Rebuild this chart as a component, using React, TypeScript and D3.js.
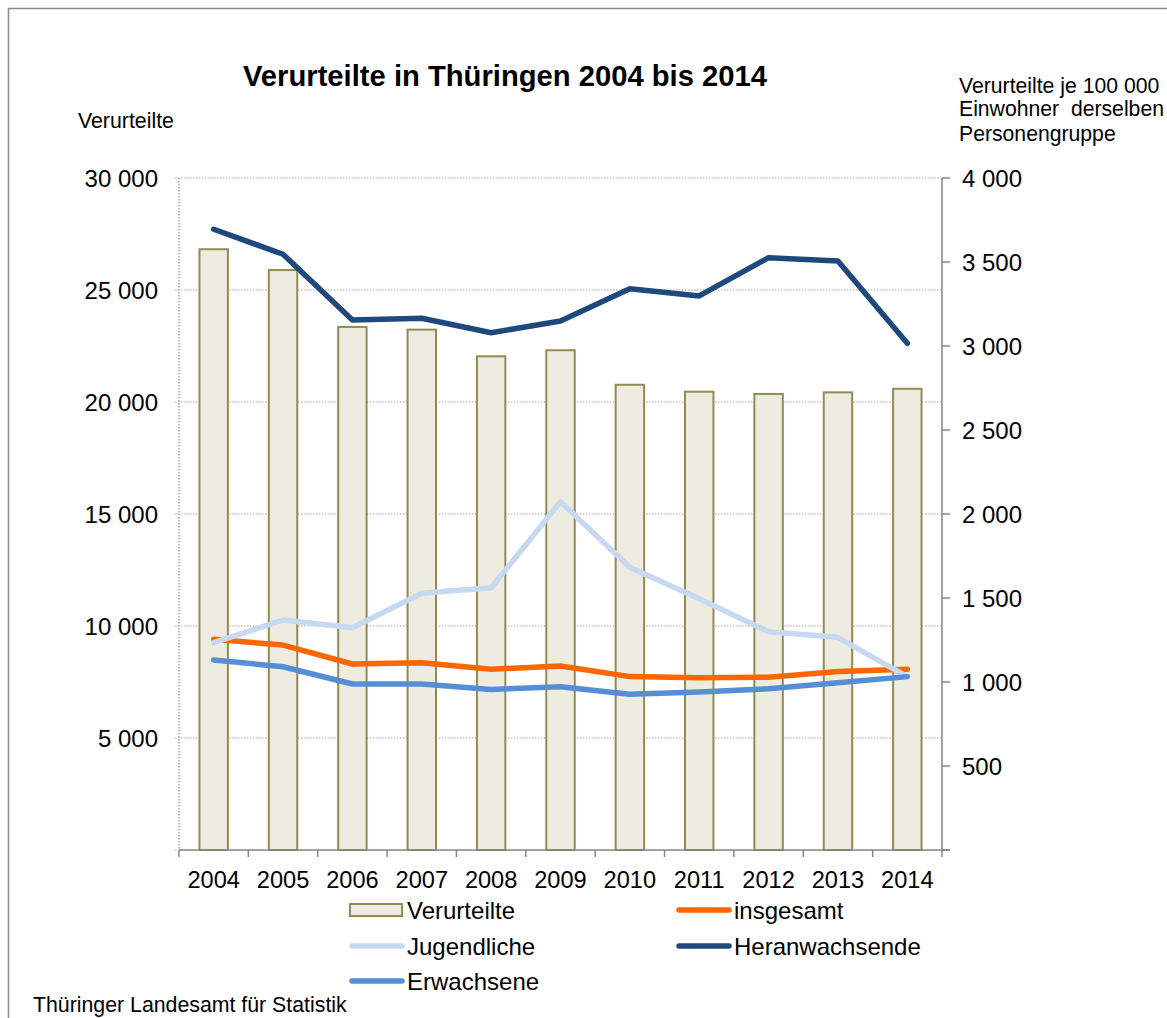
import React from 'react';
import * as d3 from 'd3';

const years = ['2004', '2005', '2006', '2007', '2008', '2009', '2010', '2011', '2012', '2013', '2014'];
// Verurteilte (bars, left axis)
const verurteilte = [26820, 25890, 23350, 23230, 22040, 22310, 20770, 20460, 20360, 20430, 20590];
// je 100 000 Einwohner (lines, right axis)
const insgesamt = [1254, 1220, 1107, 1115, 1076, 1095, 1032, 1026, 1028, 1062, 1076];
const jugendliche = [1234, 1369, 1323, 1528, 1561, 2073, 1683, 1495, 1299, 1266, 1031];
const heranwachsende = [3695, 3546, 3155, 3165, 3079, 3149, 3341, 3298, 3526, 3506, 3016];
const erwachsene = [1131, 1091, 988, 988, 956, 972, 927, 940, 960, 996, 1032];

const leftTicks = [5000, 10000, 15000, 20000, 25000, 30000];
const rightTicks = [500, 1000, 1500, 2000, 2500, 3000, 3500, 4000];

const lineSeries = [
  { name: 'insgesamt', values: insgesamt, color: '#FF6600' },
  { name: 'Jugendliche', values: jugendliche, color: '#C6D9F1' },
  { name: 'Heranwachsende', values: heranwachsende, color: '#1F497D' },
  { name: 'Erwachsene', values: erwachsene, color: '#558ED5' },
];

const font = '"Liberation Sans", Arial, sans-serif';
const fmt = d3.formatLocale({ decimal: ',', thousands: ' ', grouping: [3], currency: ['', ''] }).format(',');

export default function App() {
  const W = 1167, H = 1018;
  const m = { left: 179, right: 942, top: 178, bottom: 850 };

  const x = d3.scaleBand().domain(years).range([m.left, m.right]).padding(0);
  const yL = d3.scaleLinear().domain([0, 30000]).range([m.bottom, m.top]);
  const yR = d3.scaleLinear().domain([0, 4000]).range([m.bottom, m.top]);
  const bw = x.bandwidth() * 0.41;
  const cx = (yr) => x(yr) + x.bandwidth() / 2;

  const line = d3.line().x((d, i) => cx(years[i])).y(d => yR(d));

  const legend = [
    { type: 'bar', name: 'Verurteilte', x: 350, y: 910 },
    { type: 'line', name: 'insgesamt', x: 677, y: 910, color: '#FF6600' },
    { type: 'line', name: 'Jugendliche', x: 350, y: 946, color: '#C6D9F1' },
    { type: 'line', name: 'Heranwachsende', x: 677, y: 946, color: '#1F497D' },
    { type: 'line', name: 'Erwachsene', x: 350, y: 981, color: '#558ED5' },
  ];

  return (
    <svg width={W} height={H} style={{ position: 'absolute', left: 0, top: 0, background: '#fff' }} fontFamily={font}>
      <rect x={8.5} y={8.5} width={W + 20} height={H + 20} fill="#fff" stroke="#8C8C8C" strokeWidth={1.5} />

      <text x={505} y={86} textAnchor="middle" fontSize={29.2} fontWeight="bold">Verurteilte in Thüringen 2004 bis 2014</text>
      <text x={78} y={128} fontSize={21.3}>Verurteilte</text>
      <text x={959} y={93} fontSize={21.2}>Verurteilte je 100 000</text>
      <text x={959} y={116} fontSize={21.2} style={{ whiteSpace: 'pre' }}>Einwohner  derselben</text>
      <text x={959} y={141} fontSize={21.2}>Personengruppe</text>

      {/* gridlines */}
      {leftTicks.map(t => (
        <line key={t} x1={m.left - 4} x2={m.right} y1={yL(t)} y2={yL(t)} stroke="#A6A6A6" strokeWidth={1} strokeDasharray="1.5,1.5" />
      ))}

      {/* left axis (dotted) */}
      <line x1={m.left} x2={m.left} y1={m.top} y2={m.bottom} stroke="#A6A6A6" strokeWidth={1.5} strokeDasharray="1.5,1.5" />
      <line x1={m.left - 4} x2={m.left} y1={m.bottom} y2={m.bottom} stroke="#A6A6A6" strokeWidth={1} strokeDasharray="1.5,1.5" />
      {leftTicks.map(t => (
        <text key={t} x={158} y={yL(t) + 8.5} textAnchor="end" fontSize={24}>{fmt(t)}</text>
      ))}

      {/* bars */}
      {verurteilte.map((v, i) => (
        <rect key={years[i]} x={cx(years[i]) - bw / 2} y={yL(v)} width={bw} height={m.bottom - yL(v)}
          fill="#EEECE1" stroke="#948A54" strokeWidth={2} />
      ))}

      {/* bottom axis */}
      <line x1={m.left} x2={m.right + 8} y1={m.bottom} y2={m.bottom} stroke="#868686" strokeWidth={1.5} />
      {[...years.map(yr => x(yr)), m.right].map((tx, i) => (
        <line key={i} x1={tx} x2={tx} y1={m.bottom} y2={m.bottom + 7} stroke="#868686" strokeWidth={1.5} />
      ))}
      {years.map(yr => (
        <text key={yr} x={cx(yr)} y={888} textAnchor="middle" fontSize={23.6}>{yr}</text>
      ))}

      {/* right axis */}
      <line x1={m.right} x2={m.right} y1={m.top} y2={m.bottom} stroke="#868686" strokeWidth={1.5} />
      {[0, ...rightTicks].map(t => (
        <line key={t} x1={m.right} x2={m.right + 8} y1={yR(t)} y2={yR(t)} stroke="#868686" strokeWidth={1.5} />
      ))}
      {rightTicks.map(t => (
        <text key={t} x={962} y={yR(t) + 8.5} fontSize={24}>{fmt(t)}</text>
      ))}

      {/* lines */}
      {lineSeries.map(s => (
        <path key={s.name} d={line(s.values)} fill="none" stroke={s.color} strokeWidth={5.5}
          strokeLinejoin="round" strokeLinecap="round" />
      ))}

      {/* legend */}
      {legend.map(l => (
        <g key={l.name}>
          {l.type === 'bar'
            ? <rect x={l.x} y={l.y - 6} width={52} height={12} fill="#EEECE1" stroke="#948A54" strokeWidth={2} />
            : <line x1={l.x + 2} x2={l.x + 52} y1={l.y} y2={l.y} stroke={l.color} strokeWidth={5.5} strokeLinecap="round" />}
          <text x={l.x + 57} y={l.y + 8.5} fontSize={24}>{l.name}</text>
        </g>
      ))}

      <text x={33} y={1012} fontSize={21.3}>Thüringer Landesamt für Statistik</text>
    </svg>
  );
}
